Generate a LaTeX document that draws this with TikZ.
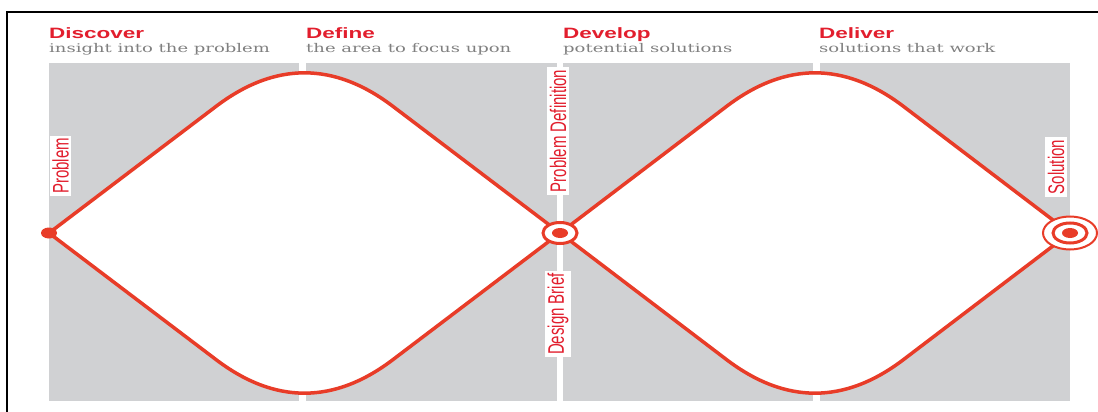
\documentclass[tikz,border=0pt]{standalone}
\usepackage{fontspec}
\setmainfont{DejaVu Serif}
\setsansfont{Liberation Sans}
\usepackage{graphicx}
\usetikzlibrary{positioning}
\definecolor{ddred}{RGB}{232,60,40}
\definecolor{ddtitle}{RGB}{226,30,45}
\definecolor{ddgrey}{RGB}{208,209,211}
\definecolor{ddsub}{RGB}{128,128,128}
\newcommand{\wide}[1]{\scalebox{1.5}[1]{#1}}
\newcommand{\upright}[1]{\scalebox{1.5}[1]{\rotatebox{90}{#1}}}

\begin{document}
\begin{tikzpicture}[x=1pt,y=-1pt,
  phase/.style={anchor=base west, inner sep=0pt, text=ddtitle, font=\sffamily\bfseries\fontsize{15}{15}\selectfont},
  phasesub/.style={anchor=base west, inner sep=0pt, text=ddsub, font=\fontsize{12}{12}\selectfont},
  stage/.style={fill=white, inner sep=2.5pt, text=ddtitle, font=\sffamily\fontsize{15}{15}\selectfont},
  track/.style={draw=ddred, line width=3.5pt, fill=white, line join=round}]
\useasboundingbox (0,0) rectangle (1098,412);
\draw[line width=2pt] (7,412) -- (7,12) -- (1098,12);
% grey columns
\fill[ddgrey] (49,63) rectangle (299,401);
\fill[ddgrey] (306,63) rectangle (557,401);
\fill[ddgrey] (563,63) rectangle (813,401);
\fill[ddgrey] (820,63) rectangle (1070,401);
\coordinate (problempt) at (49,233);
\coordinate (briefpt) at (560,233);
\coordinate (solutionpt) at (1070,233);
% the two diamonds
\path[track] (problempt) -- (215.5,106.8) .. controls (274.8,61.5) and (334.2,61.5) .. (393.5,106.8) -- (briefpt)
  -- (393.5,359.2) .. controls (334.2,404.5) and (274.8,404.5) .. (215.5,359.2) -- cycle;
\path[track] (briefpt) -- (726,106.8) .. controls (785.3,61.5) and (844.7,61.5) .. (904,106.8) -- (solutionpt)
  -- (904,359.2) .. controls (844.7,404.5) and (785.3,404.5) .. (726,359.2) -- cycle;
\node (discover) [phase] at (49,39) {\wide{Discover}};
\node (insight) [below=13.5pt of discover.base west, phasesub] {\wide{insight into the problem}};
\node (define) [phase] at (306,39) {\wide{Define}};
\node (focus) [below=13.5pt of define.base west, phasesub] {\wide{the area to focus upon}};
\node (develop) [phase] at (563,39) {\wide{Develop}};
\node (potential) [below=13.5pt of develop.base west, phasesub] {\wide{potential solutions}};
\node (deliver) [phase] at (819,39) {\wide{Deliver}};
\node (work) [below=13.5pt of deliver.base west, phasesub] {\wide{solutions that work}};
\node (problem) [stage] at (60.5,166) {\upright{Problem}};
\node (definition) [stage] at (558,131) {\upright{Problem Definition}};
\node (brief) [stage] at (558,314) {\upright{Design Brief}};
\node (solution) [stage] at (1056,167) {\upright{Solution}};
% dot and targets
\fill[ddred] (problempt) ellipse [x radius=8, y radius=5.5];
\draw[ddred, line width=3pt, fill=white] (briefpt) ellipse [x radius=17, y radius=10.5];
\fill[ddred] (briefpt) ellipse [x radius=8, y radius=5];
\draw[ddred, line width=2pt, fill=white] (solutionpt) ellipse [x radius=27, y radius=16.5];
\draw[ddred, line width=3pt, fill=white] (solutionpt) ellipse [x radius=17, y radius=10];
\fill[ddred] (solutionpt) ellipse [x radius=8, y radius=5];
\end{tikzpicture}
\end{document}
